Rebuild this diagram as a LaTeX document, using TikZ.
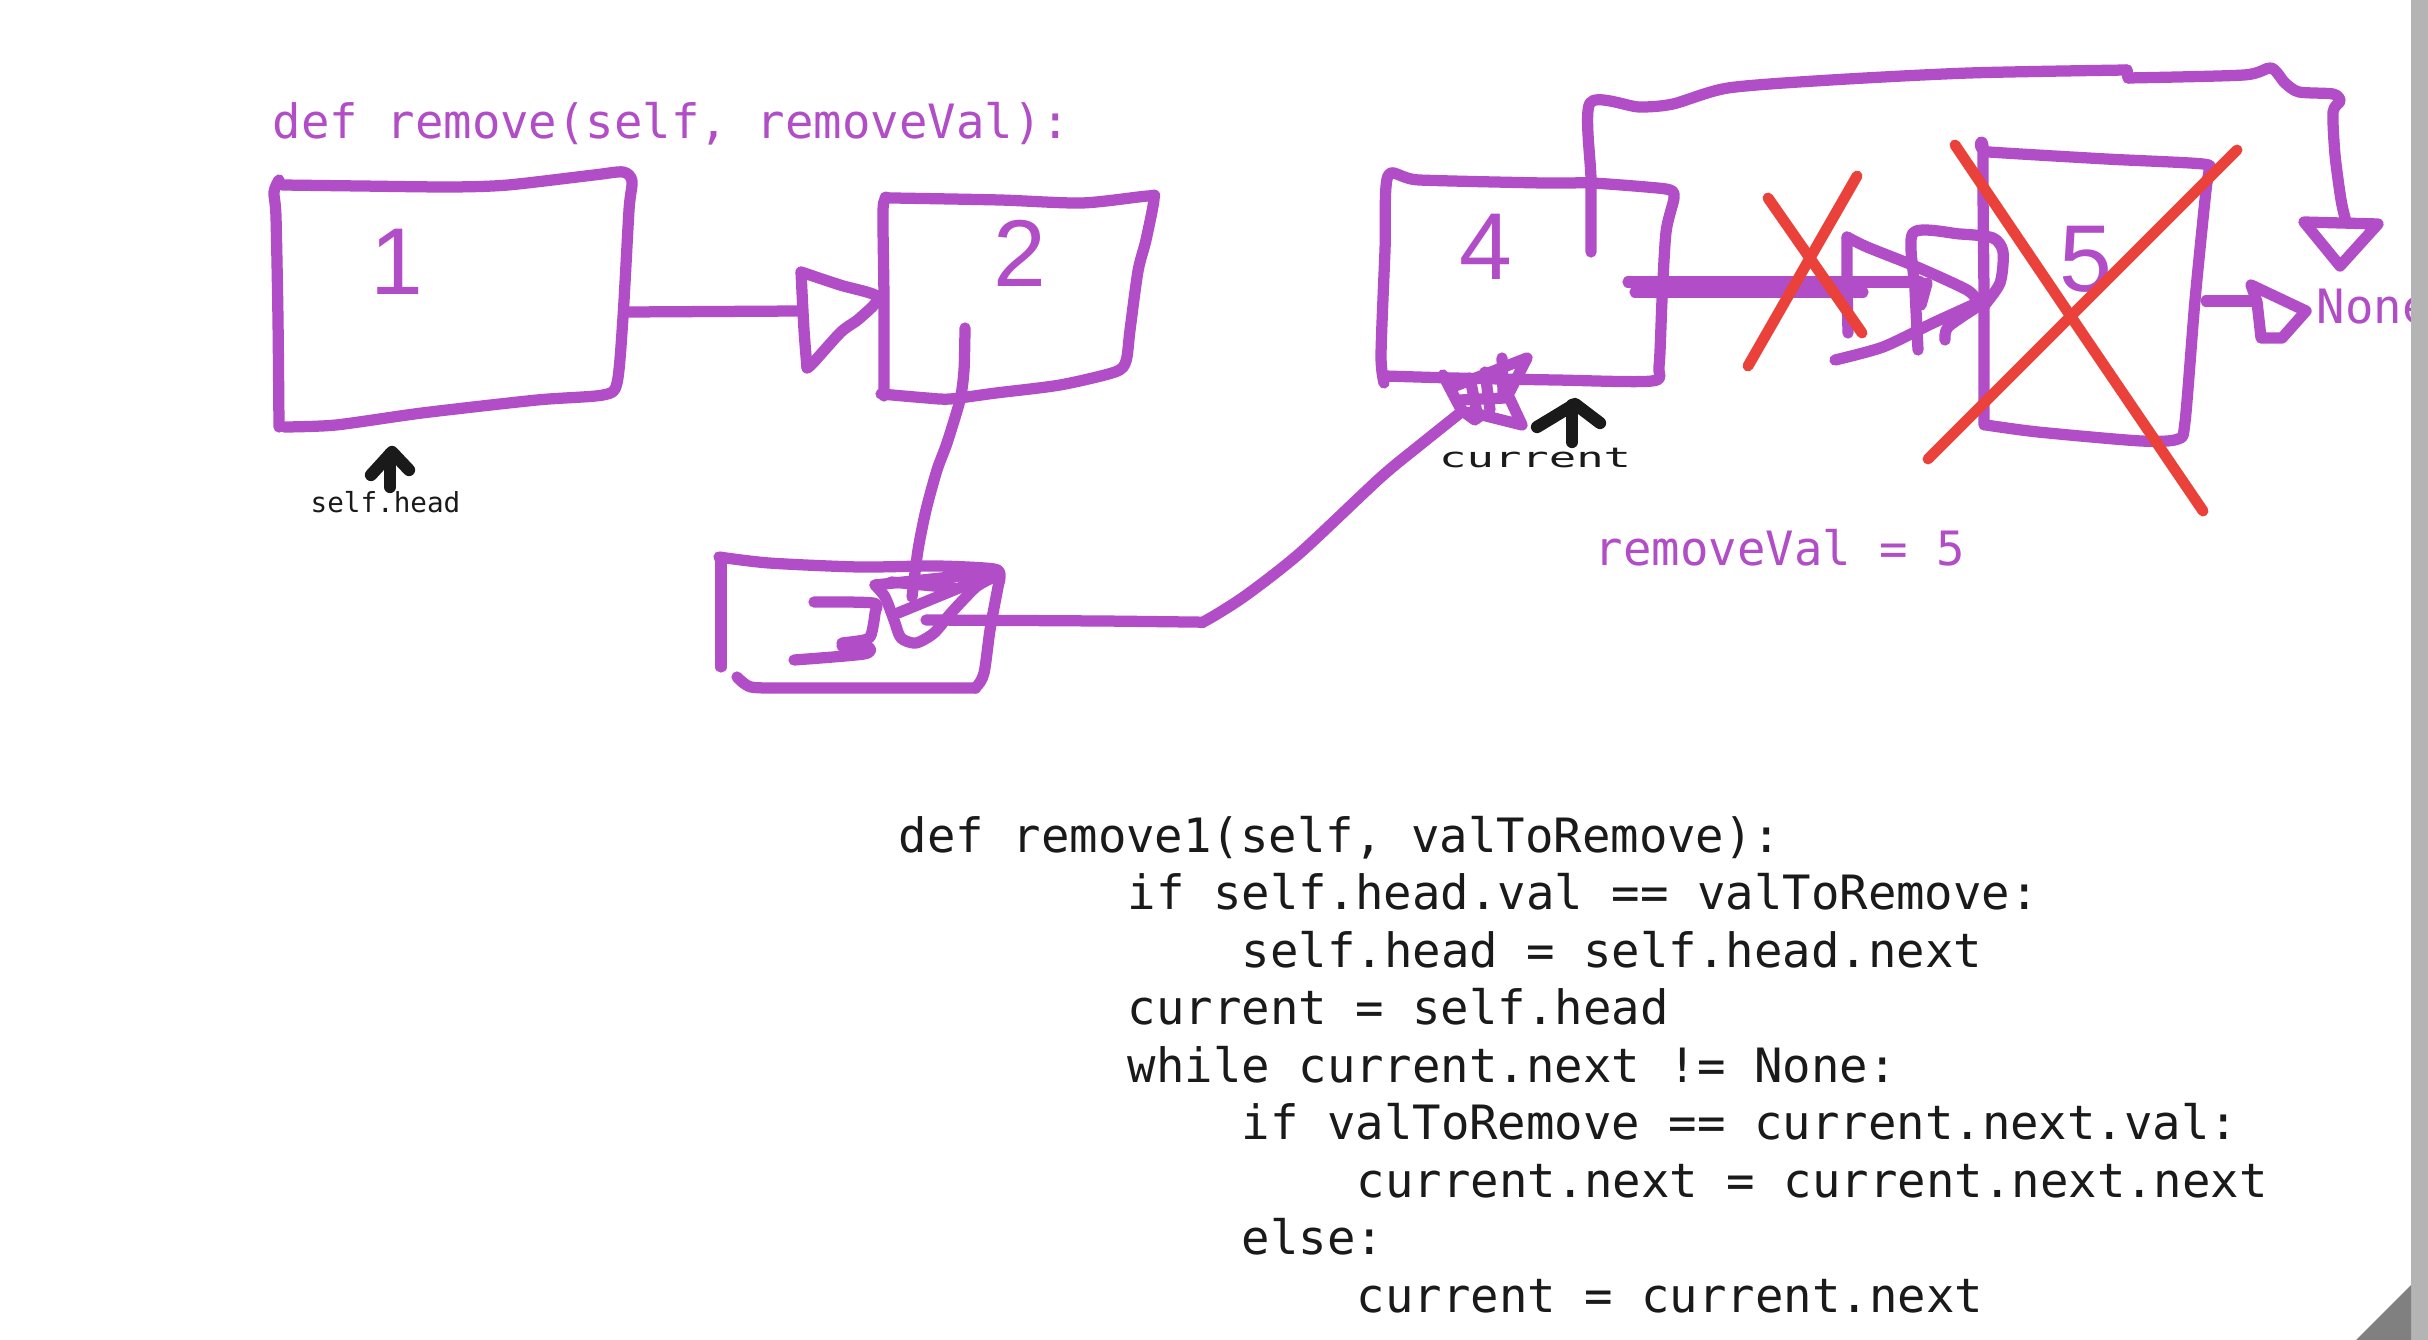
\documentclass[tikz,border=0pt]{standalone}
\usepackage{fontspec}
\setmainfont{Liberation Sans}
\newfontfamily\codefont{DejaVu Sans Mono}
\definecolor{pen}{RGB}{177,77,198}
\definecolor{redpen}{RGB}{234,65,58}
\definecolor{ink}{RGB}{26,26,26}
\definecolor{barg}{RGB}{180,180,180}
\definecolor{darkg}{RGB}{128,128,128}
\tikzset{
  stroke/.style={draw=pen, line width=3.2pt, line cap=round, line join=round},
  redstroke/.style={draw=redpen, line width=3.1pt, line cap=round, line join=round},
  inkstroke/.style={draw=ink, line width=3.5pt, line cap=round, line join=round},
  codeline/.style={font=\codefont\fontsize{13.45}{16}\selectfont, text=ink, anchor=base west, inner sep=0pt},
  ptext/.style={font=\codefont\fontsize{13.45}{16}\selectfont, text=pen, anchor=base west, inner sep=0pt},
  digit/.style={font=\fontsize{27}{30}\selectfont, text=pen, anchor=base, inner sep=0pt},
  smalltext/.style={font=\codefont\fontsize{7.85}{9}\selectfont, text=ink, anchor=base west, inner sep=0pt},
  sm/.style={smooth, tension=0.45}
}
\begin{document}
\begin{tikzpicture}[x=0.01cm, y=-0.01cm]
\useasboundingbox (0,0) rectangle (2428,1340);
\fill[white] (0,0) rectangle (2428,1340);

% title
\node[ptext] (title) at (272,139) {def remove(self, removeVal):};

% box 1
\draw[stroke] plot[sm] coordinates {(279,427) (278,320) (276,217) (274,192) (279,180)};
\draw[stroke] plot[sm] coordinates {(282,185) (360,186) (451,187) (508,185) (594,175) (623,172) (632,181) (629,210) (623,317) (617,383) (603,395) (537,400) (422,413) (336,425) (284,427)};
\node[digit] (n1) at (397,295) {1};

% arrow 1 -> 2
\draw[stroke] (629,312) -- (800,311);
\draw[stroke] plot[sm] coordinates {(807,368) (804,330) (801,272)};
\draw[stroke] plot[sm] coordinates {(801,272) (840,285) (878,297) (860,318) (841,332) (813,363) (807,368)};

% box 2
\draw[stroke] plot[sm] coordinates {(884,396) (884,300) (883,210) (887,198) (893,198) (1000,200) (1082,203) (1148,196) (1154,199) (1146,240) (1138,271) (1130,330) (1126,361) (1115,372) (1060,385) (996,393) (950,399) (927,398) (881,394)};
\node[digit] (n2) at (1020,287) {2};

% connector 2 -> 3
\draw[stroke] plot[sm] coordinates {(965,328) (964,370) (960,400) (947,443) (937,470) (926,510) (918,550) (912,597)};

% box 3
\draw[stroke] (721,667) -- (721,562);
\draw[stroke] plot[sm] coordinates {(719,557) (769,563) (859,567) (937,566) (994,569) (1000,577) (998,587) (990,630) (984,673) (976,687) (966,688) (859,688) (787,688) (751,687) (737,677)};
% scribbled 3
\draw[stroke] plot[sm] coordinates {(814,602) (873,603) (875,613) (871,635) (864,640) (842,643)};
\draw[stroke] plot[sm] coordinates {(842,646) (868,647) (864,654) (794,660)};
% scribbled arrowhead 2 -> 3
\draw[stroke] (875,585) -- (998,572);
\draw[stroke] (891,582) -- (955,588);
\draw[stroke] (998,572) -- (898,613);
\draw[stroke] plot[sm] coordinates {(875,585) (885,597) (894,620) (901,638) (916,643) (934,633) (951,613) (976,587) (994,577)};

% connector 3 -> 4
\draw[stroke] plot[sm] coordinates {(926,620) (1100,621) (1194,622) (1205,621) (1245,596) (1300,553) (1380,478) (1420,445) (1460,413)};
% scribbled arrowhead at 4
\draw[stroke] plot[sm] coordinates {(1443,375) (1455,398) (1462,410) (1475,420)};
\draw[stroke] (1450,388) -- (1527,358) -- (1508,395) -- (1522,425) -- (1470,412);
\draw[stroke] (1502,358) -- (1503,392);
\draw[stroke] (1470,378) -- (1478,418);
\draw[stroke] (1460,400) -- (1505,398);
\draw[stroke] (1485,372) -- (1490,410);

% box 4
\draw[stroke] plot[sm] coordinates {(1384,383) (1381,355) (1385,250) (1388,176) (1419,180) (1543,183) (1591,183) (1646,187) (1670,190) (1674,198) (1666,232) (1662,300) (1659,366) (1652,381) (1556,380) (1453,378) (1385,376)};
\node[digit] (n4) at (1486,280) {4};

% top route 4 -> None
\draw[stroke] plot[sm] coordinates {(1591,252) (1591,180) (1590,103) (1639,107) (1673,104) (1728,88) (1831,80) (1969,73) (2127,70)};
\draw[stroke] (2127,70) -- (2128,78);
\draw[stroke] plot[sm] coordinates {(2128,78) (2244,75) (2271,68) (2285,83) (2299,92) (2333,94) (2340,101) (2333,112) (2335,155) (2341,200) (2346,222)};
\draw[stroke] (2304,222) -- (2378,224) -- (2340,266) -- cycle;

% thick arrow 4 -> 5
\draw[stroke] (1628,282) -- (1920,282);
\draw[stroke] (1635,292) -- (1863,292);
\draw[stroke] plot[sm] coordinates {(1848,333) (1847,283) (1847,237)};
\draw[stroke] plot[sm] coordinates {(1847,237) (1867,247) (1917,267) (1967,290) (1978,302)};
\draw[stroke] plot[sm] coordinates {(1835,360) (1883,347) (1933,323) (1977,303)};
\draw[stroke] plot[sm] coordinates {(1918,350) (1915,290) (1913,233) (1960,234) (1993,238) (2003,252) (2000,283) (1983,307)};
\draw[stroke] (1927,283) -- (1921,305);
\draw[stroke] plot[sm] coordinates {(1945,340) (1948,327) (1977,307)};

% box 5
\draw[stroke] plot[sm] coordinates {(1984,425) (1984,300) (1983,150) (1989,152) (2106,159) (2203,164) (2209,171) (2206,190) (2195,300) (2185,422) (2178,439) (2141,441) (2038,432) (1986,425)};
\node[digit] (n5) at (2086,292) {5};

% arrow 5 -> None
\draw[stroke] (2206,301) -- (2251,301);
\draw[stroke] (2251,285) -- (2306,311) -- (2282,338) -- (2261,338) -- (2257,302) -- cycle;
\node[ptext] (none) at (2316,324) {None};

% red crosses
\draw[redstroke] (1768,198) -- (1862,333);
\draw[redstroke] (1857,176) -- (1748,366);
\draw[redstroke] plot[sm] coordinates {(1955,145) (2080,330) (2203,511)};
\draw[redstroke] (2237,150) -- (1928,459);

% labels with little arrows
\draw[inkstroke] (390,487) -- (390,454);
\draw[inkstroke] (371,475) -- (392,452) -- (409,470);
\node[smalltext] (selfhead) at (310,513) {self.head};

\draw[inkstroke] (1572,442) -- (1572,405);
\draw[inkstroke] (1537,427) -- (1575,404) -- (1600,423);
\begin{scope}[shift={(1438,468)}]
\node[smalltext, xscale=1.65] (cur) at (0,0) {current};
\end{scope}

\node[ptext] (rv) at (1594,566) {removeVal = 5};

% code
\node[codeline] (c1) at (898,852)    {def remove1(self, valToRemove):};
\node[codeline] (c2) at (1127,909.5) {if self.head.val == valToRemove:};
\node[codeline] (c3) at (1241,967)   {self.head = self.head.next};
\node[codeline] (c4) at (1127,1024.5){current = self.head};
\node[codeline] (c5) at (1127,1082)  {while current.next != None:};
\node[codeline] (c6) at (1241,1139.5){if valToRemove == current.next.val:};
\node[codeline] (c7) at (1356,1197)  {current.next = current.next.next};
\node[codeline] (c8) at (1241,1254.5){else:};
\node[codeline] (c9) at (1356,1312)  {current = current.next};

% right edge bar and corner
\fill[barg] (2411,0) rectangle (2428,1340);
\fill[darkg] (2356,1340) -- (2411,1285) -- (2411,1340) -- cycle;
\end{tikzpicture}
\end{document}
